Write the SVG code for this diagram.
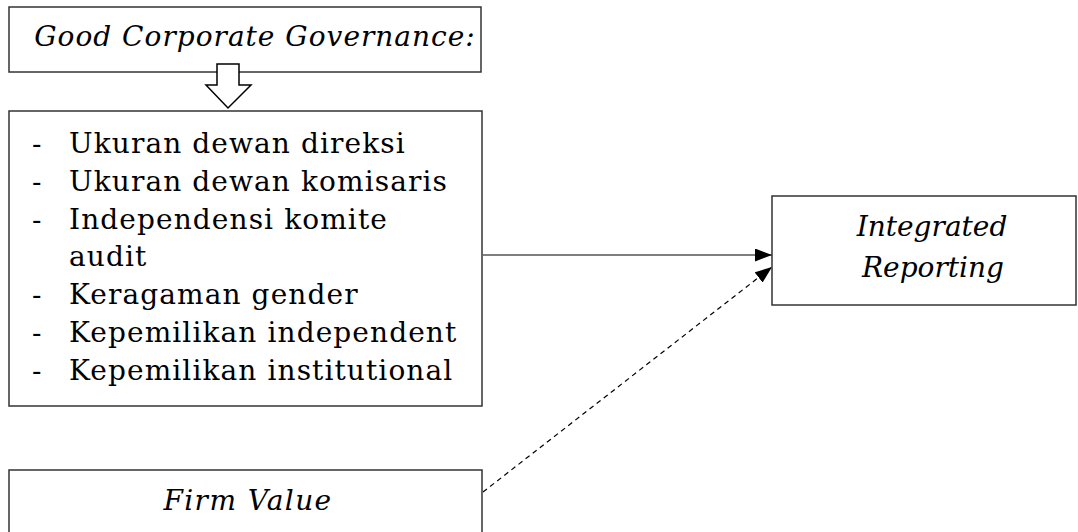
<svg xmlns="http://www.w3.org/2000/svg" width="1078" height="532" viewBox="0 0 1078 532">
<style>
.box{fill:#fff;stroke:#333;stroke-width:1.5}
.t{font-family:"DejaVu Serif","Liberation Serif",serif;font-size:28px;fill:#000;letter-spacing:1.1px}
.i{font-style:italic}
.c{stroke:#000;stroke-width:1.2;fill:none}
.d{stroke-dasharray:5,4}
</style>
<defs>
<marker id="ah" markerWidth="17" markerHeight="13" refX="17" refY="6.5" orient="auto" markerUnits="userSpaceOnUse">
<path d="M0,0 L17,6.5 L0,13 Z" fill="#000"/>
</marker>
</defs>
<g id="connectors">
<line class="c" x1="483" y1="255" x2="772" y2="255" marker-end="url(#ah)"/>
<line class="c d" x1="483" y1="492" x2="772" y2="267" marker-end="url(#ah)"/>
</g>
<g id="gcg">
<rect class="box" x="9" y="7" width="472" height="65"/>
<text class="t i" x="255" y="46" text-anchor="middle" style="letter-spacing:1px">Good Corporate Governance:</text>
</g>
<g id="block-arrow">
<path d="M217,64 L239,64 L239,85 L251,85 L228,108 L206,85 L217,85 Z" fill="#fff" stroke="#000" stroke-width="1.5"/>
</g>
<g id="indicators">
<rect class="box" x="9" y="111" width="473" height="295"/>
<g class="t">
<text x="32" y="153">-</text><text x="69" y="153">Ukuran dewan direksi</text>
<text x="32" y="191">-</text><text x="69" y="191">Ukuran dewan komisaris</text>
<text x="32" y="229">-</text><text x="69" y="229">Independensi komite</text>
<text x="69" y="266">audit</text>
<text x="32" y="304">-</text><text x="69" y="304">Keragaman gender</text>
<text x="32" y="342">-</text><text x="69" y="342">Kepemilikan independent</text>
<text x="32" y="380">-</text><text x="69" y="380">Kepemilikan institutional</text>
</g>
</g>
<g id="ir">
<rect class="box" x="772" y="196" width="304" height="109"/>
<text class="t i" x="932" y="236" text-anchor="middle" style="letter-spacing:0">Integrated</text>
<text class="t i" x="933" y="277" text-anchor="middle" style="letter-spacing:0">Reporting</text>
</g>
<g id="fv">
<rect class="box" x="9" y="470" width="473" height="80"/>
<text class="t i" x="248" y="510" text-anchor="middle" style="letter-spacing:1.4px">Firm Value</text>
</g>
</svg>
